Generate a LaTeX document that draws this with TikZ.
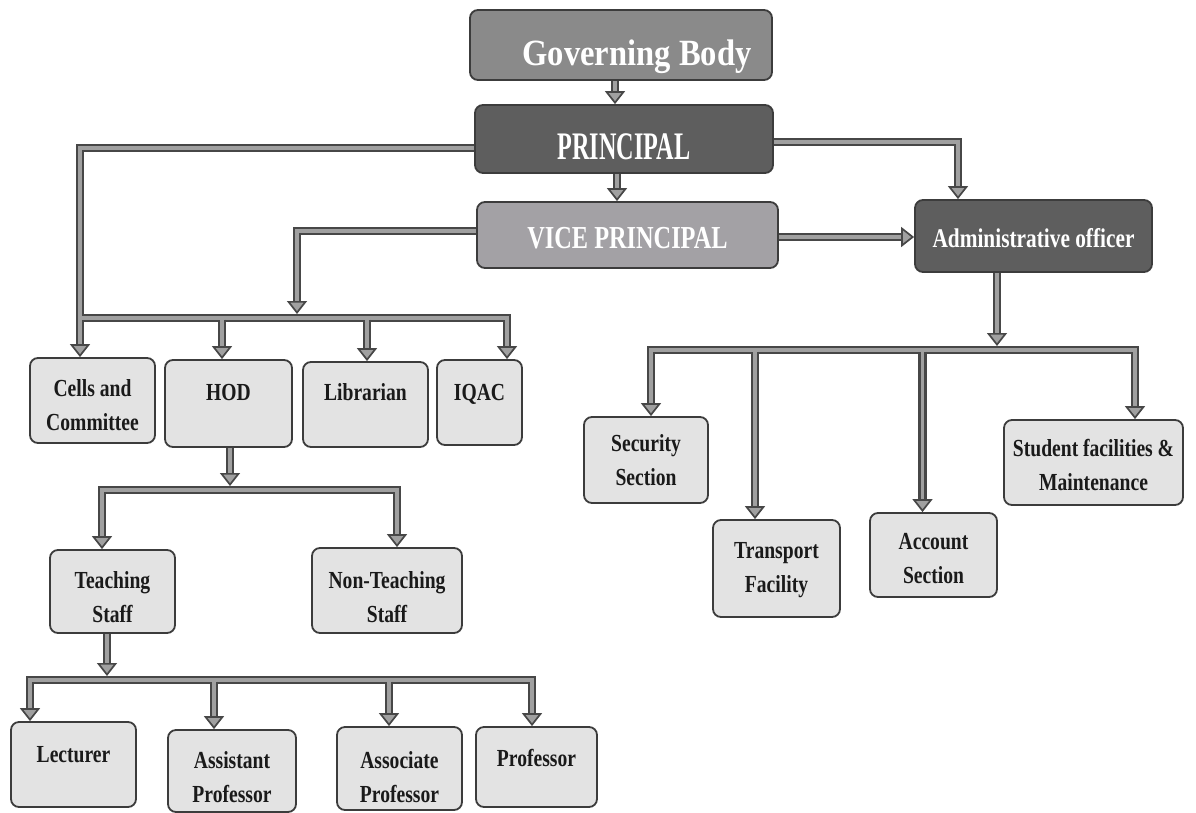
\documentclass[tikz,border=0pt]{standalone}
\usepackage{fontspec}
\setmainfont{Liberation Serif}
\newfontfamily\fgb[FakeStretch=0.88]{Liberation Serif}
\newfontfamily\fpr[FakeStretch=0.62]{Liberation Serif}
\newfontfamily\fvp[FakeStretch=0.76]{Liberation Serif}
\newfontfamily\fao[FakeStretch=0.79]{Liberation Serif}
\newfontfamily\flt[FakeStretch=0.8]{Liberation Serif}
\usetikzlibrary{arrows.meta}
\definecolor{gbfill}{HTML}{8A8A8A}
\definecolor{prfill}{HTML}{5E5E5E}
\definecolor{vpfill}{HTML}{A3A1A5}
\definecolor{lightfill}{HTML}{E3E3E3}
\definecolor{edgecol}{HTML}{3C3C3C}
\definecolor{connout}{HTML}{474747}
\definecolor{connin}{HTML}{A0A0A0}
\definecolor{ink}{HTML}{1A1A1A}
\begin{document}
\begin{tikzpicture}[x=1pt,y=-1pt,
  box/.style={draw=edgecol, line width=1.8pt, rounded corners=8pt, align=center, inner sep=2pt},
  headbox/.style={box, text=white},
  light/.style={box, fill=lightfill, text=ink, font=\flt\bfseries\fontsize{24.5}{34}\selectfont},
  up/.style={text height=0pt, text depth=#1},
  down/.style={text height=#1, text depth=0pt},
  link/.style={draw=connout, line width=2.5pt, double=connin, double distance=3.2pt},
  conn/.style={link, -{Triangle[length=13pt,width=20pt,fill=connin,line width=1.7pt]}}
]
\useasboundingbox[fill=white] (0,0) rectangle (1196,812);

% top chain
\node[headbox, fill=gbfill, font=\fgb\bfseries\fontsize{37}{40}\selectfont,
      minimum width=302pt, minimum height=70pt, down=40pt] (gb) at (621,45) {\hspace*{32pt}Governing Body};
\node[headbox, fill=prfill, font=\fpr\bfseries\fontsize{39}{42}\selectfont,
      minimum width=298pt, minimum height=68pt, down=40pt] (pr) at (624,139) {PRINCIPAL};
\node[headbox, fill=vpfill, font=\fvp\bfseries\fontsize{32}{36}\selectfont,
      minimum width=301pt, minimum height=66pt, down=26pt] (vp) at (627.5,235) {VICE PRINCIPAL};
\node[headbox, fill=prfill, font=\fao\bfseries\fontsize{27}{30}\selectfont,
      minimum width=237pt, minimum height=72pt, down=22pt] (ao) at (1033.5,236) {Administrative officer};

% second level (left)
\node[light, minimum width=125pt, minimum height=85pt, down=59pt] (cells) at (92.5,400.5) {Cells and\\Committee};
\node[light, minimum width=127pt, minimum height=87pt, up=7pt] (hod) at (228.5,403.5) {HOD};
\node[light, minimum width=125pt, minimum height=85pt, up=9pt] (lib) at (365.5,404.5) {Librarian};
\node[light, minimum width=85pt, minimum height=85pt, up=5pt] (iqac) at (479.5,402.5) {IQAC};

% staff
\node[light, minimum width=125pt, minimum height=83pt, down=61pt] (teach) at (112.5,591.5) {Teaching\\Staff};
\node[light, minimum width=150pt, minimum height=85pt, down=63pt] (nont) at (387,590.5) {Non-Teaching\\Staff};

% bottom row
\node[light, minimum width=125pt, minimum height=85pt, up=5pt] (lect) at (73.5,764.5) {Lecturer};
\node[light, minimum width=128pt, minimum height=82pt, down=62pt] (asst) at (232,771) {Assistant\\Professor};
\node[light, minimum width=125pt, minimum height=83pt, down=67pt] (assoc) at (399.5,768.5) {Associate\\Professor};
\node[light, minimum width=121pt, minimum height=80pt, up=2pt] (prof) at (536.5,767) {Professor};

% right side
\node[light, minimum width=124pt, minimum height=86pt, down=50pt] (sec) at (646,460) {Security\\Section};
\node[light, minimum width=127pt, minimum height=97pt, down=47pt] (trans) at (776.5,568.5) {Transport\\Facility};
\node[light, minimum width=127pt, minimum height=84pt, down=56pt] (acct) at (933.5,555) {Account\\Section};
\node[light, minimum width=179pt, minimum height=85pt, down=55pt] (stud) at (1093.5,462.5) {Student facilities \&\\Maintenance};

% bus coordinates
\coordinate (bl) at (81.5,318);
\coordinate (vpin) at (297,314);
\coordinate (bhod) at (222,319.5);
\coordinate (blib) at (367,319.5);
\coordinate (h2) at (230,490);
\coordinate (h2in) at (230,486);
\coordinate (t3) at (107,680);
\coordinate (t3in) at (107,676);
\coordinate (basst) at (214,681.5);
\coordinate (bassoc) at (389,681.5);
\coordinate (a4) at (997,350);
\coordinate (a4in) at (997,346);
\coordinate (btrans) at (755,351.5);
\coordinate (bacct) at (922.5,351.5);

% connectors
\draw[conn] ([xshift=-6pt]gb.south) -- ([xshift=-9pt]pr.north);
\draw[conn] ([xshift=-7pt]pr.south) -- ([xshift=-10.5pt]vp.north);
\draw[conn] ([yshift=-9pt]pr.west) -| ([xshift=-12.5pt]cells.north);
\draw[conn] ([yshift=-3pt]pr.east) -| ([xshift=-75.5pt]ao.north);
\draw[conn] ([yshift=-2pt]vp.east) -- ([yshift=-1pt]ao.west);
\draw[conn] ([yshift=4pt]vp.west) -| (vpin);

\draw[conn] (bl) -| ([xshift=27.5pt]iqac.north);
\draw[conn] (bhod) -- ([xshift=-6.5pt]hod.north);
\draw[conn] (blib) -- ([xshift=1.5pt]lib.north);

\draw[conn] ([xshift=1.5pt]hod.south) -- (h2in);
\draw[conn] (h2) -| ([xshift=-10.5pt]teach.north);
\draw[conn] (h2) -| ([xshift=10pt]nont.north);

\draw[conn] ([xshift=-5.5pt]teach.south) -- (t3in);
\draw[conn] (t3) -| ([xshift=-43.5pt]lect.north);
\draw[conn] (t3) -| ([xshift=-4.5pt]prof.north);
\draw[conn] (basst) -- ([xshift=-18pt]asst.north);
\draw[conn] (bassoc) -- ([xshift=-10.5pt]assoc.north);

\draw[conn] ([xshift=-36.5pt]ao.south) -- (a4in);
\draw[conn] (a4) -| ([xshift=5pt]sec.north);
\draw[conn] (a4) -| ([xshift=41.5pt]stud.north);
\draw[conn] (btrans) -- ([xshift=-21.5pt]trans.north);
\draw[conn] (bacct) -- ([xshift=-11pt]acct.north);
\end{tikzpicture}
\end{document}
